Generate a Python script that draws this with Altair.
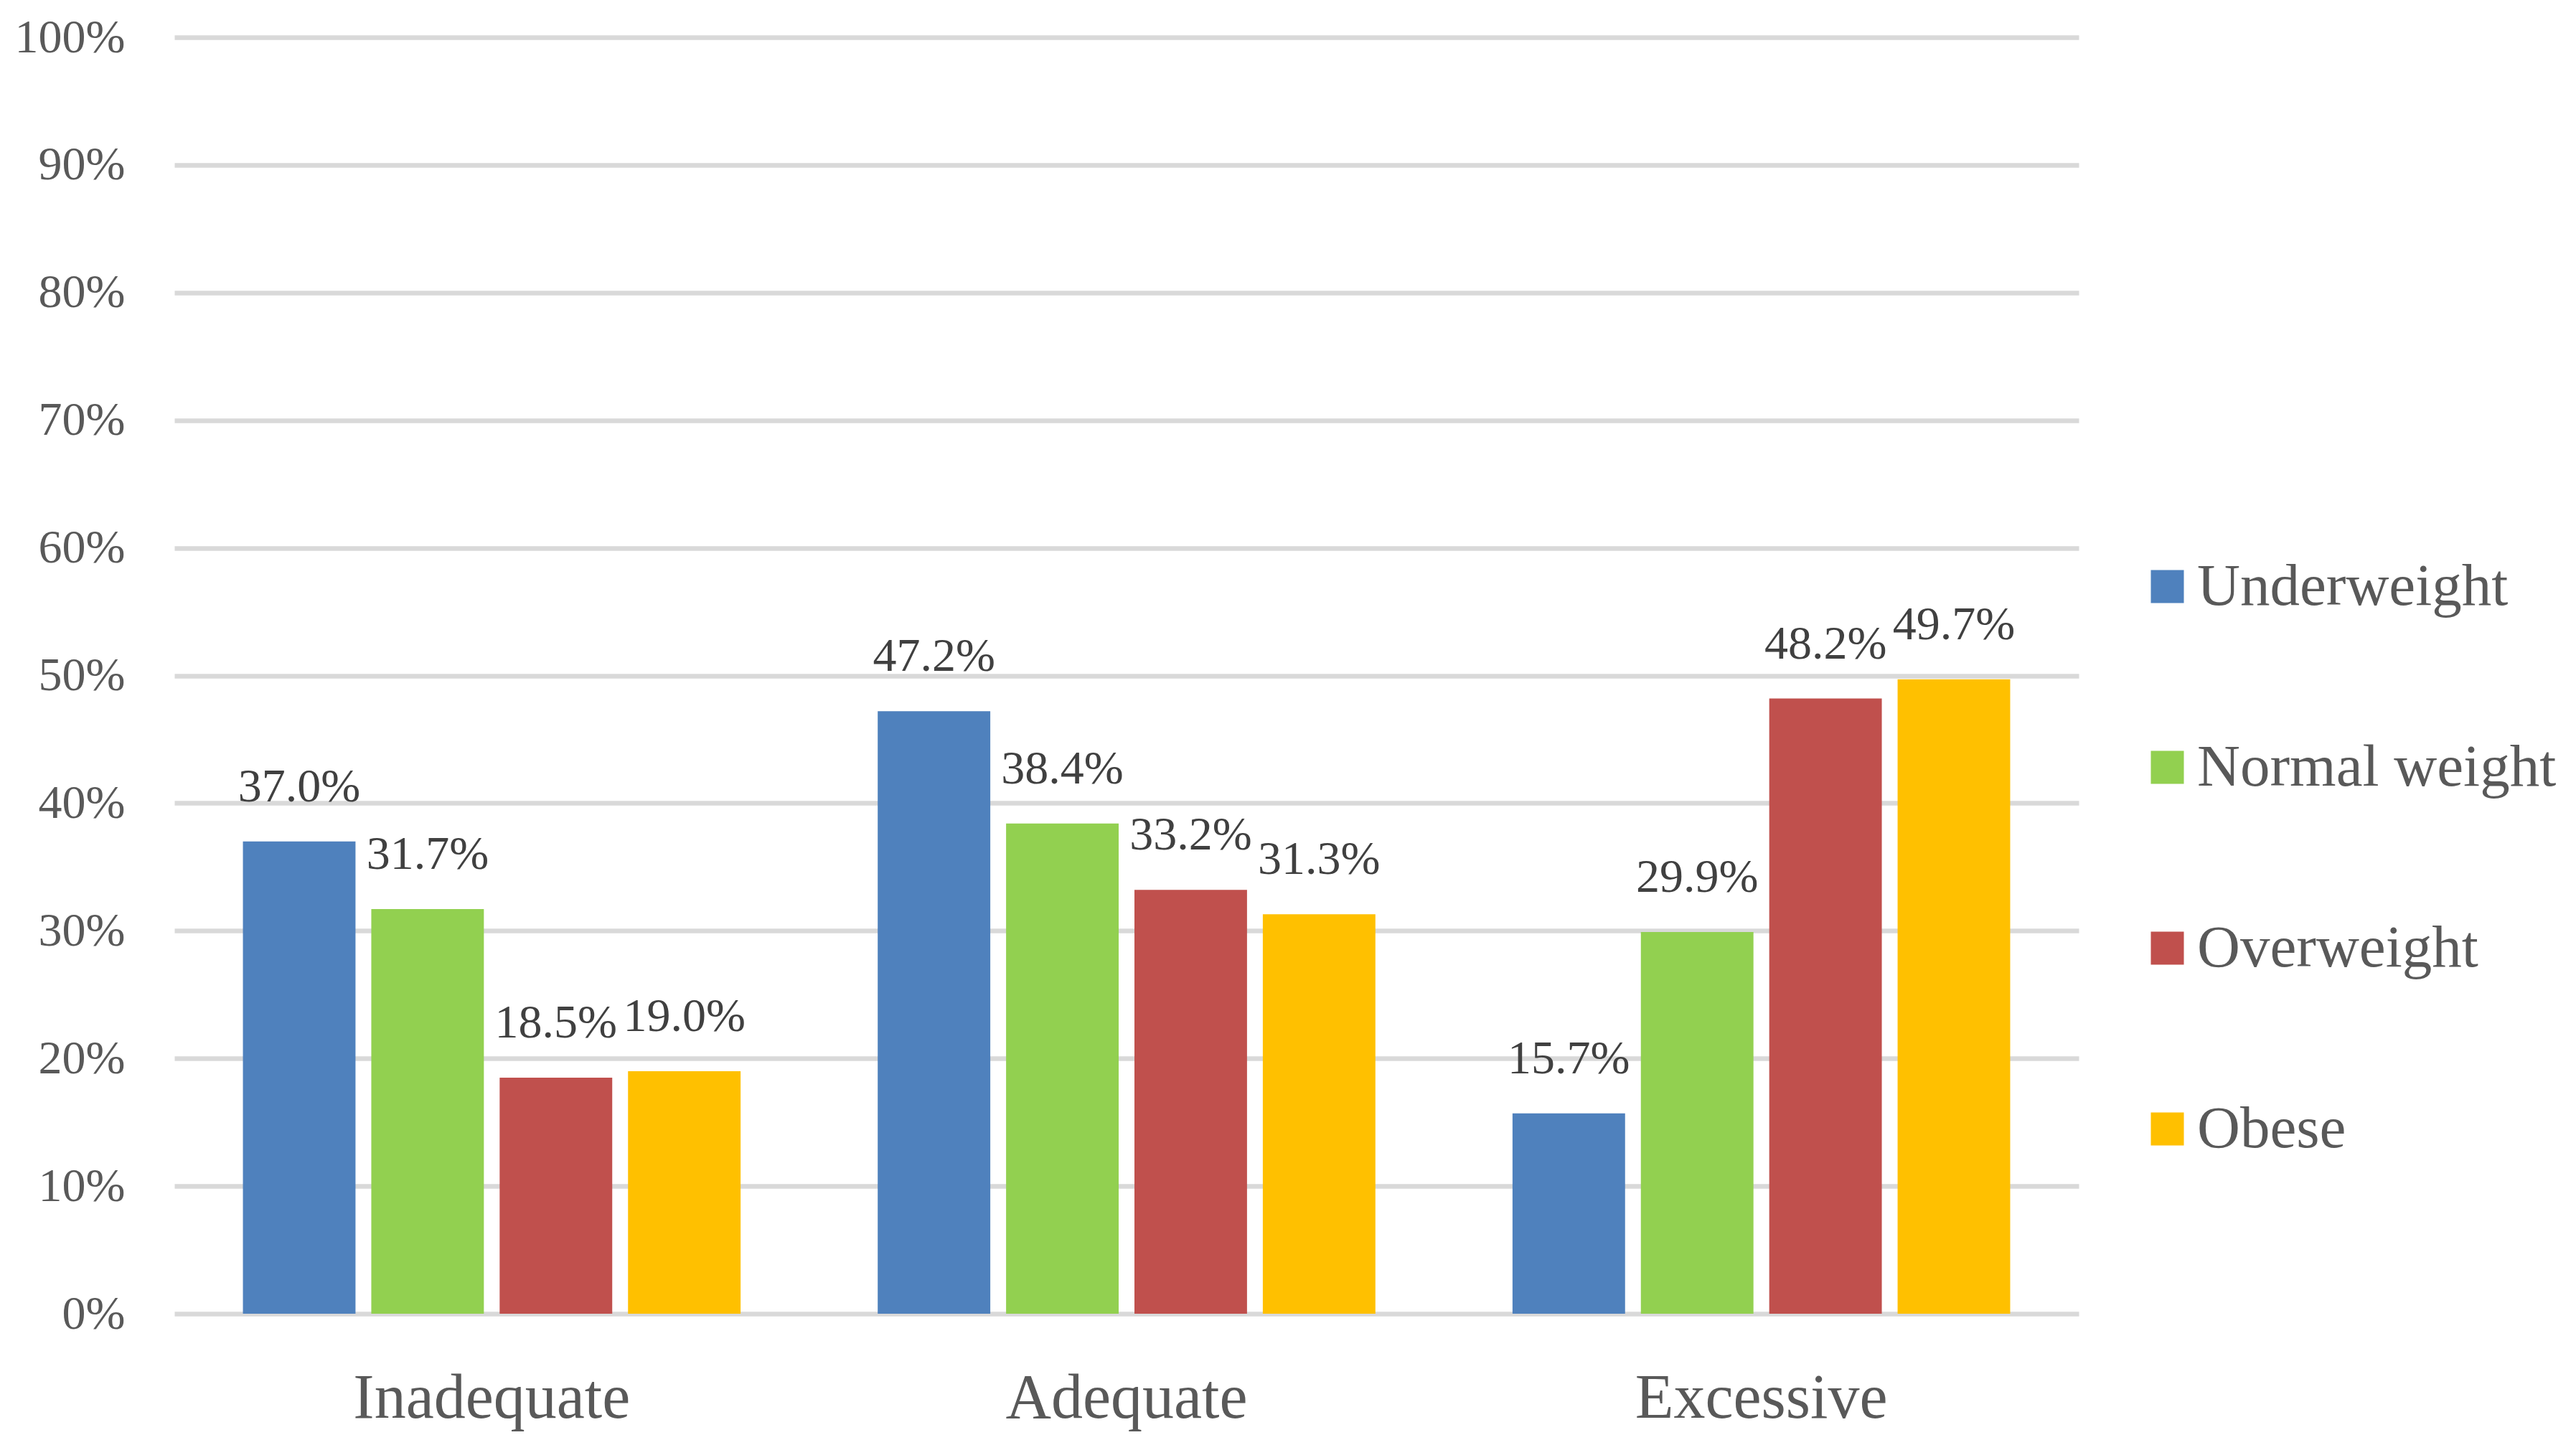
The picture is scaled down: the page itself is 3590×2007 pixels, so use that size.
import altair as alt
import pandas as pd

categories = ["Inadequate", "Adequate", "Excessive"]
groups = ["Underweight", "Normal weight", "Overweight", "Obese"]
underweight = [0.370, 0.472, 0.157]
normal_weight = [0.317, 0.384, 0.299]
overweight = [0.185, 0.332, 0.482]
obese = [0.190, 0.313, 0.497]
colors = ["#4f81bd", "#92d050", "#c0504d", "#ffc000"]

rows = []
for g, vals in zip(groups, [underweight, normal_weight, overweight, obese]):
    for c, v in zip(categories, vals):
        rows.append({"category": c, "group": g, "value": v})
df = pd.DataFrame(rows)

FONT = "Liberation Serif"

x = alt.X("category:N", sort=categories, title=None,
          scale=alt.Scale(paddingInner=0.216, paddingOuter=0.108),
          axis=alt.Axis(labelAngle=0, labelFontSize=88, labelColor="#595959",
                        labelFont=FONT, ticks=False, domain=False, labelPadding=74,
                        grid=False, labelLimit=0))
xo = alt.XOffset("group:N", sort=groups,
                 scale=alt.Scale(paddingInner=0.123, paddingOuter=0))

bars = alt.Chart(df).mark_bar().encode(
    x=x,
    xOffset=xo,
    y=alt.Y("value:Q", title=None,
            scale=alt.Scale(domain=[0, 1], nice=False),
            axis=alt.Axis(format=".0%", values=[i / 10 for i in range(11)],
                          labelFontSize=66, labelColor="#595959", labelFont=FONT,
                          ticks=False, domain=False, labelPadding=69,
                          gridColor="#d9d9d9", gridWidth=6.5)),
    color=alt.Color("group:N", sort=groups,
                    scale=alt.Scale(domain=groups, range=colors),
                    legend=alt.Legend(title=None, orient="none", legendX=2736, legendY=724,
                                      symbolType="square", symbolSize=2116,
                                      symbolStrokeWidth=0, labelFontSize=83,
                                      labelFont=FONT, labelColor="#595959",
                                      rowPadding=168, labelOffset=0, padding=0,
                                      symbolOpacity=1, labelLimit=0)),
)

labels = alt.Chart(df).mark_text(baseline="alphabetic", dy=-56, fontSize=66,
                                 font=FONT, color="#404040").encode(
    x=alt.X("category:N", sort=categories),
    xOffset=alt.XOffset("group:N", sort=groups),
    y=alt.Y("value:Q"),
    text=alt.Text("value:Q", format=".1%"),
)

chart = (bars + labels).properties(
    width=2654, height=1779,
    autosize=alt.AutoSizeParams(type="none"),
    padding={"left": 235, "top": 44, "right": 685, "bottom": 168},
).configure_view(stroke=None).configure_axis(gridOpacity=1)

chart.save("out.html", embed_options={"renderer": "svg", "actions": False})
